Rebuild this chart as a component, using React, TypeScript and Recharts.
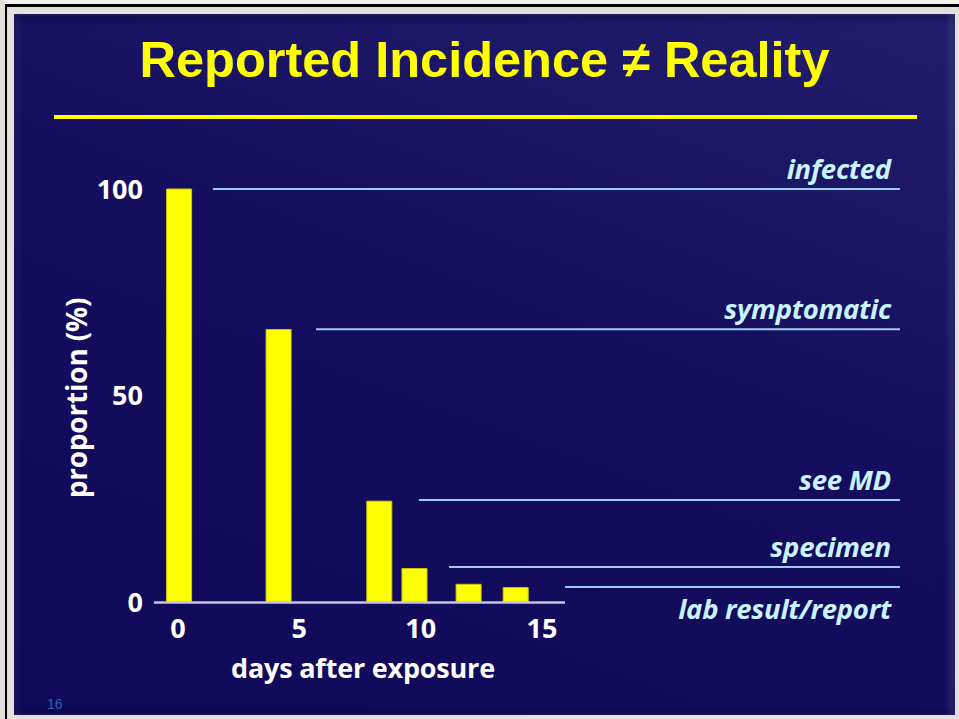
import {
  Bar,
  ComposedChart,
  ReferenceLine,
  XAxis,
  YAxis,
} from 'recharts'

// bars
const days = [0.05, 4.15, 8.3, 9.75, 11.98, 13.92]
const proportions = [100, 66, 24.5, 8.2, 4.4, 3.6]

// stage lines on the right
const stageNames = ['infected', 'symptomatic', 'see MD', 'specimen', 'lab result/report']
const stageLevels = [100, 66.1, 24.8, 8.6, 3.75]
const stageStarts = [1.44, 5.69, 9.93, 11.17, 15.95]
const stageEnd = 29.75

const xTicks = [0, 5, 10, 15]
const yTicks = [0, 50, 100]

const chartData = days.map((d, i) => ({ day: d, pct: proportions[i] }))

const FONT = '"Open Sans", "DejaVu Sans", sans-serif'
const LINE_BLUE = '#9ccfee'
const LABEL_CYAN = '#c9f3ff'

function stageLabel(name: string, below: boolean) {
  // eslint-disable-next-line @typescript-eslint/no-explicit-any
  return (props: any) => {
    const vb = props.viewBox || {}
    const x = vb.x + vb.width - 9
    const y = below ? vb.y + 32 : vb.y - 10
    return (
      <text
        x={x}
        y={y}
        textAnchor="end"
        fill={LABEL_CYAN}
        fontFamily={FONT}
        fontStyle="italic"
        fontWeight={700}
        fontSize={27.5}
        letterSpacing={-0.3}
      >
        {name}
      </text>
    )
  }
}

export default function App() {
  return (
    <div
      style={{
        position: 'fixed',
        left: 0,
        top: 0,
        width: 959,
        height: 719,
        background: '#e4e1da',
        overflow: 'hidden',
      }}
    >
      <div style={{ position: 'absolute', left: 5, top: 0, width: 954, height: 4, background: '#f4f3ef' }} />
      <div style={{ position: 'absolute', left: 5, top: 4, width: 954, height: 3, background: '#000' }} />
      <div style={{ position: 'absolute', left: 5, top: 4, width: 2, height: 715, background: '#000' }} />
      <div
        style={{
          position: 'absolute',
          left: 14,
          top: 14,
          width: 941,
          height: 701,
          background: 'linear-gradient(200deg, #221d6c 0%, #150e5e 45%, #100858 100%)',
          boxShadow:
            'inset -7px 0 5px rgba(120,120,200,0.18), inset 0 7px 5px rgba(0,0,30,0.25), inset 6px 0 5px rgba(120,120,200,0.10), inset 0 -6px 5px rgba(0,0,30,0.2)',
        }}
      />
      <div
        style={{
          position: 'absolute',
          left: 14,
          top: 30,
          width: 941,
          textAlign: 'center',
          fontFamily: '"Liberation Sans", Arial, sans-serif',
          fontWeight: 700,
          fontSize: 50.5,
          lineHeight: '60px',
          color: '#ffff00',
        }}
      >
        Reported Incidence ≠ Reality
      </div>
      <div style={{ position: 'absolute', left: 54, top: 115, width: 863, height: 4, background: '#ffff00' }} />
      <div
        style={{
          position: 'absolute',
          left: 47,
          top: 696,
          fontFamily: '"Liberation Sans", Arial, sans-serif',
          fontSize: 14,
          color: '#2f62b8',
        }}
      >
        16
      </div>

      <div style={{ position: 'absolute', left: 0, top: 0 }}>
        <ComposedChart
          width={959}
          height={719}
          data={chartData}
          margin={{ top: 189, right: 53, bottom: 76.5, left: 84 }}
        >
          <XAxis
            dataKey="day"
            type="number"
            domain={[-1.4, 30]}
            ticks={xTicks}
            allowDataOverflow
            axisLine={false}
            tickLine={false}
            tickSize={0}
            tickMargin={16}
            height={40}
            tick={{ fill: '#ffffff', fontSize: 27, fontWeight: 700, fontFamily: FONT }}
            label={{
              content: () => (
                <text
                  x={363}
                  y={678}
                  textAnchor="middle"
                  fill="#ffffff"
                  fontFamily={FONT}
                  fontWeight={700}
                  fontSize={27}
                  letterSpacing={-0.2}
                >
                  days after exposure
                </text>
              ),
            }}
          />
          <YAxis
            type="number"
            domain={[0, 100]}
            ticks={yTicks}
            axisLine={false}
            tickLine={false}
            tickSize={0}
            tickMargin={1}
            width={60}
            tick={{ fill: '#ffffff', fontSize: 27, fontWeight: 700, fontFamily: FONT }}
            label={{
              content: () => (
                <text
                  x={87}
                  y={398}
                  transform="rotate(-90 87 398)"
                  textAnchor="middle"
                  fill="#ffffff"
                  fontFamily={FONT}
                  fontWeight={700}
                  fontSize={28}
                  letterSpacing={-0.2}
                >
                  proportion (%)
                </text>
              ),
            }}
          />
          <ReferenceLine
            segment={[
              { x: -0.99, y: 0 },
              { x: 15.95, y: 0 },
            ]}
            stroke="#c4c4e4"
            strokeWidth={2.5}
            ifOverflow="visible"
          />
          {stageNames.map((name, i) => (
            <ReferenceLine
              key={name}
              segment={[
                { x: stageStarts[i], y: stageLevels[i] },
                { x: stageEnd, y: stageLevels[i] },
              ]}
              stroke={LINE_BLUE}
              strokeWidth={2}
              ifOverflow="visible"
              label={{ content: stageLabel(name, i === stageNames.length - 1) }}
            />
          ))}
          <Bar
            dataKey="pct"
            fill="#ffff00"
            stroke="#cfcb10"
            strokeWidth={1}
            barSize={25}
            isAnimationActive={false}
          />
        </ComposedChart>
      </div>
    </div>
  )
}
